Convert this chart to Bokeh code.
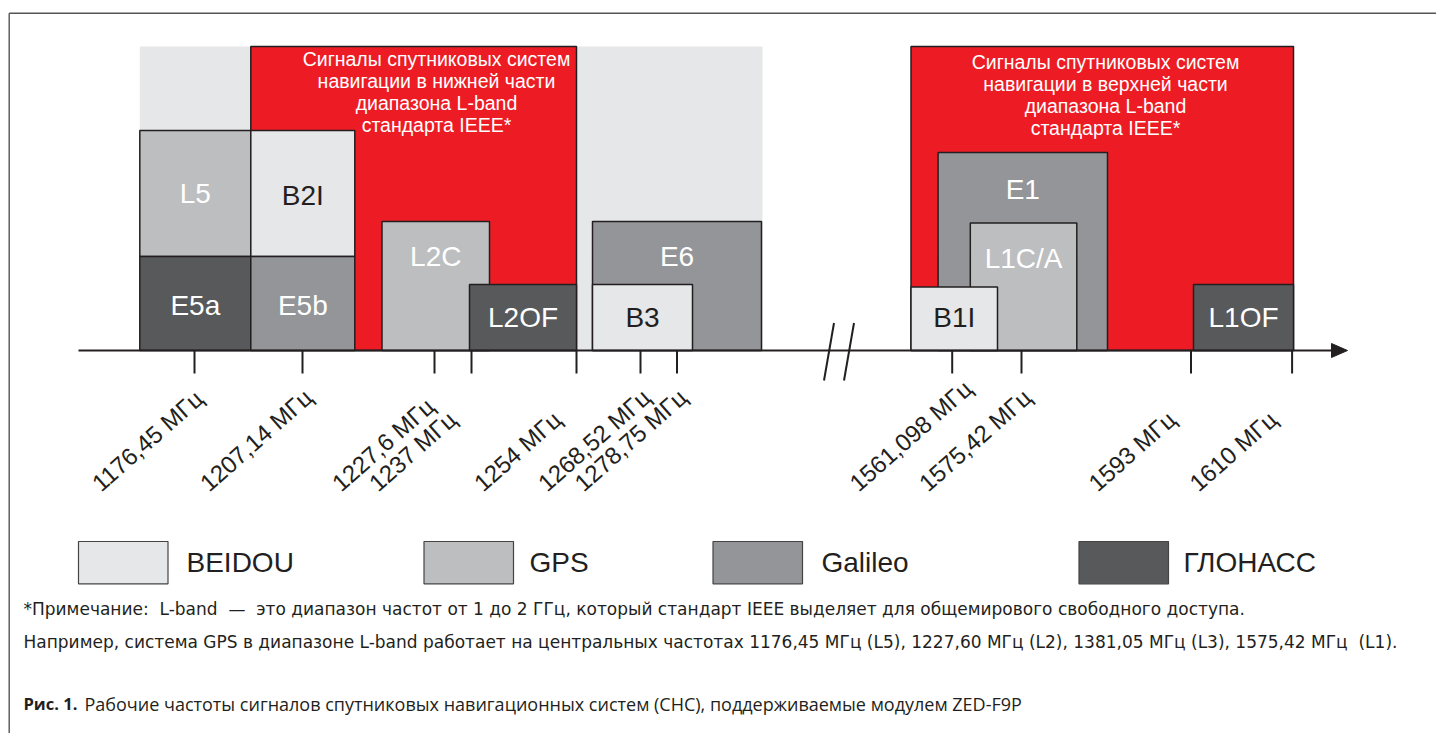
import math
from bokeh.plotting import figure
from bokeh.models import Range1d
from bokeh.core.properties import value
from bokeh.embed import file_html
from bokeh.resources import INLINE

# ---------------- data ----------------
systems = ["BEIDOU", "GPS", "Galileo", "ГЛОНАСС"]
system_colors = ["#E6E7E8", "#BCBEC0", "#939598", "#58595B"]

# schematic positions of the frequency marks on the (non-linear) axis
tick_pos = [194, 302, 434, 471, 576, 640, 676.5, 951.7, 1021, 1190.5, 1291.6]
tick_labels = ["1176,45 МГц", "1207,14 МГц", "1227,6 МГц", "1237 МГц", "1254 МГц",
               "1268,52 МГц", "1278,75 МГц", "1561,098 МГц", "1575,42 МГц",
               "1593 МГц", "1610 МГц"]

# signal blocks (schematic x, height above axis)
block_names = ["L5", "B2I", "E5a", "E5b", "L2C", "L2OF", "E6", "B3",
               "E1", "L1C/A", "B1I", "L1OF"]
block_group = ["GPS", "BEIDOU", "ГЛОНАСС", "Galileo", "GPS", "ГЛОНАСС", "Galileo",
               "BEIDOU", "Galileo", "GPS", "BEIDOU", "ГЛОНАСС"]
block_left = [139.3, 250.3, 139.3, 250.3, 381.5, 469, 592, 592, 937.6, 969.8, 910.5, 1193]
block_right = [250.3, 354.3, 250.3, 354.3, 489, 576, 761, 692, 1107, 1076.3, 997, 1293]
block_bottom = [94, 94, 0, 0, 0, 0, 0, 0, 0, 0, 0, 0]
block_top = [220, 220, 94, 94, 129, 66, 129, 66, 198, 127.5, 63.5, 66]

# IEEE L-band regions (red) and the light background band
band_left = [250.3, 910.5]
band_right = [576, 1293]
band_top = [304, 304]
band_titles = [["Сигналы спутниковых систем", "навигации в нижней части",
                "диапазона L-band", "стандарта IEEE*"],
               ["Сигналы спутниковых систем", "навигации в верхней части",
                "диапазона L-band", "стандарта IEEE*"]]
bg_left, bg_right, bg_top = 139.3, 762, 304

NB = "\u00a0"
footnote = ["*Примечание:" + NB + " L-band" + NB + " —" + NB + " это диапазон частот от 1 до 2 ГГц, который стандарт IEEE выделяет для общемирового свободного доступа.",
            "Например, система GPS в диапазоне L-band работает на центральных частотах 1176,45 МГц (L5), 1227,60 МГц (L2), 1381,05 МГц (L3), 1575,42 МГц" + NB + " (L1)."]
caption_bold = "Рис. 1."
caption_text = "Рабочие частоты сигналов спутниковых навигационных систем (СНС), поддерживаемые модулем ZED-F9P"

# ---------------- layout / style ----------------
INK = "#231F20"
RED = "#ED1C24"
FONT = value("Liberation Sans")
color_of = dict(zip(systems, system_colors))
dark_text = {"BEIDOU"}
label_y = [156.7, 155, 45, 45, 94, 33.3, 94, 33.3, 160.7, 91.7, 33.3, 33.3]

p = figure(width=1436, height=733, x_range=Range1d(0, 1436), y_range=Range1d(-383, 350),
           output_backend="svg", toolbar_location=None, x_axis_type=None, y_axis_type=None,
           min_border=0, outline_line_color=None,
           background_fill_color="white", border_fill_color="white")

# outer frame (open to right/bottom, as cropped in the reference)
p.segment(x0=[8.7, 8.7], y0=[337.3, 337.3], x1=[8.7, 1436], y1=[-390, 337.3],
          line_color="#555555", line_width=1.4)

# light background band and red L-band regions
p.quad(left=[bg_left], right=[bg_right], bottom=[0], top=[bg_top],
       fill_color="#E6E7E8", line_color=None)
p.quad(left=band_left, right=band_right, bottom=[0, 0], top=band_top,
       fill_color=RED, line_color=INK, line_width=1.5)

# signal blocks
p.quad(left=block_left, right=block_right, bottom=block_bottom, top=block_top,
       fill_color=[color_of[g] for g in block_group], line_color=INK, line_width=1.5)
p.text(x=[(l + r) / 2 for l, r in zip(block_left, block_right)], y=label_y, text=block_names,
       text_color=[INK if g in dark_text else "white" for g in block_group],
       text_font=FONT, text_font_size=value("28px"), text_align="center",
       text_baseline="middle")

# band titles
title_cx = [436, 1105]
title_y0 = [292, 288.3]
for cx, y0, lines in zip(title_cx, title_y0, band_titles):
    p.text(x=[cx] * len(lines), y=[y0 - 22 * i for i in range(len(lines))], text=lines,
           text_color="white", text_font=FONT, text_font_size=value("19.5px"),
           text_align="center", text_baseline="middle")

# axis line, arrow and break marks
p.segment(x0=[78], y0=[0], x1=[1334], y1=[0], line_color=INK, line_width=2.2)
p.patch(x=[1331, 1347, 1331], y=[7, 0, -7], fill_color=INK, line_color=INK)
p.segment(x0=[833.5, 853.5], y0=[27.5, 27.5], x1=[823.5, 843.5], y1=[-30, -30],
          line_color=INK, line_width=2)

# frequency ticks and rotated labels
p.segment(x0=tick_pos, y0=[0] * len(tick_pos), x1=tick_pos, y1=[-23] * len(tick_pos),
          line_color=INK, line_width=2)
p.text(x=[t - 99 for t in tick_pos], y=[-136] * len(tick_pos), text=tick_labels,
       angle=math.radians(41.5), text_color=INK, text_font=FONT,
       text_font_size=value("24px"), text_align="left", text_baseline="alphabetic")

# legend
leg_left = [78, 423.5, 712.5, 1078.5]
leg_text_x = [186, 529, 821, 1183]
p.quad(left=leg_left, right=[l + 89.5 for l in leg_left], bottom=[-233.3] * 4, top=[-191] * 4,
       fill_color=system_colors, line_color="#444444", line_width=1.2)
p.text(x=leg_text_x, y=[-211.7] * 4, text=systems, text_color=INK, text_font=FONT,
       text_font_size=value("28px"), text_align="left", text_baseline="middle")

# footnote and caption
p.text(x=[23, 23], y=[-258, -291], text=footnote, text_color=INK,
       text_font=value("DejaVu Sans"),
       text_font_size=value("17px"), text_align="left", text_baseline="middle")
p.text(x=[23], y=[-353], text=[caption_bold], text_color=INK,
       text_font=value("Open Sans"), text_font_style="bold",
       text_font_size=value("16.5px"), text_align="left", text_baseline="middle")
p.text(x=[84], y=[-353], text=[caption_text], text_color=INK,
       text_font=value("Open Sans"), text_font_size=value("18px"),
       text_align="left", text_baseline="middle")

open("out.html", "w").write(file_html(p, INLINE))
